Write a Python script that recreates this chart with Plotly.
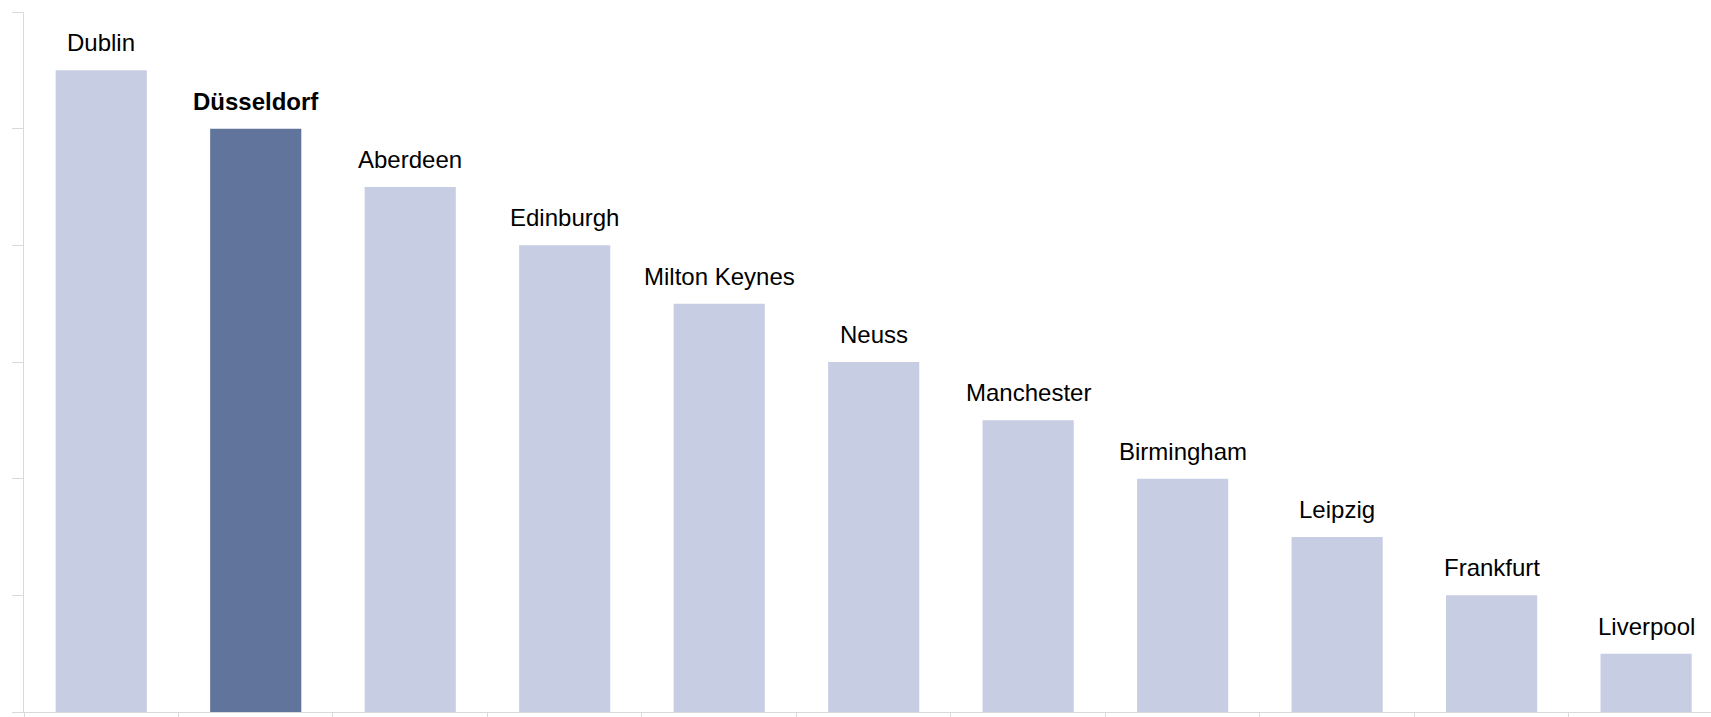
import plotly.graph_objects as go

cities = ["Dublin", "Düsseldorf", "Aberdeen", "Edinburgh", "Milton Keynes", "Neuss",
          "Manchester", "Birmingham", "Leipzig", "Frankfurt", "Liverpool"]
values = [5.5, 5.0, 4.5, 4.0, 3.5, 3.0, 2.5, 2.0, 1.5, 1.0, 0.5]
highlight = "Düsseldorf"

LIGHT = "#C7CDE2"
DARK = "#61749C"

colors = [DARK if c == highlight else LIGHT for c in cities]

fig = go.Figure()
fig.add_trace(go.Bar(x=cities, y=values, marker=dict(color=colors, line=dict(width=0)),
                     hoverinfo="x+y"))

for c, v in zip(cities, values):
    txt = f"<b>{c}</b>" if c == highlight else c
    fig.add_annotation(x=c, y=v, text=txt, showarrow=False, yanchor="bottom",
                       xanchor="center", yshift=12,
                       font=dict(family="Liberation Sans, Arial, sans-serif", size=24, color="#000000"))

fig.update_layout(
    width=1711, height=717,
    margin=dict(l=24, r=0, t=12, b=5),
    plot_bgcolor="white", paper_bgcolor="white",
    bargap=0.41, showlegend=False,
    xaxis=dict(type="category", range=[-0.5, 10.42], showline=True, linecolor="#D9D9D9",
               linewidth=1, ticks="outside", tickson="boundaries", ticklen=5,
               tickcolor="#D9D9D9", showticklabels=False, showgrid=False, zeroline=False),
    yaxis=dict(range=[0, 6], tickvals=[0, 1, 2, 3, 4, 5, 6], showline=True, linecolor="#D9D9D9",
               linewidth=1, ticks="outside", ticklen=11, tickcolor="#D9D9D9",
               showticklabels=False, showgrid=False, zeroline=False),
)

fig.write_html("out.html", config={"displayModeBar": False},
               post_script="document.body.style.margin='0';document.body.style.overflow='hidden';")
